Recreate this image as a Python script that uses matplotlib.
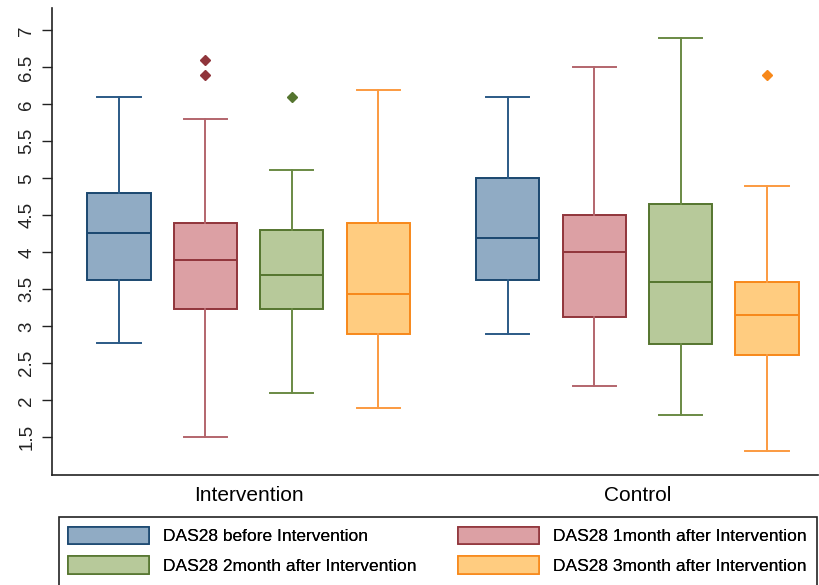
import numpy as np
import matplotlib.pyplot as plt
from matplotlib.patches import Patch, Rectangle

plt.rcParams['font.family'] = ['Liberation Sans', 'DejaVu Sans']

# data
groups = ["Intervention", "Control"]
series = ["DAS28 before Intervention", "DAS28 1month after Intervention",
          "DAS28 2month after Intervention", "DAS28 3month after Intervention"]

low = [[2.78, 1.50, 2.10, 1.90], [2.89, 2.20, 1.80, 1.31]]
q1 = [[3.62, 3.23, 3.23, 2.90], [3.62, 3.12, 2.76, 2.61]]
med = [[4.26, 3.89, 3.70, 3.44], [4.20, 4.00, 3.60, 3.15]]
q3 = [[4.80, 4.40, 4.30, 4.40], [5.00, 4.50, 4.65, 3.60]]
high = [[6.10, 5.80, 5.11, 6.20], [6.10, 6.50, 6.90, 4.90]]
outliers = [[[], [6.6, 6.4], [6.1], []], [[], [], [], [6.4]]]

edge = ["#1a476f", "#90353b", "#55752f", "#f7881a"]
whisk = ["#2b5a86", "#b3656c", "#6a8a44", "#fb9a40"]
fill = ["#90abc4", "#dca0a4", "#b7c99a", "#ffcc80"]

fig = plt.figure(figsize=(8.19, 5.85), dpi=100)
ax = fig.add_axes([0.0635, 0.188, 0.9353, 0.798])

for g in range(len(groups)):
    for s in range(len(series)):
        pos = 1 + s + g * 4.5
        st = [dict(whislo=low[g][s], q1=q1[g][s], med=med[g][s], q3=q3[g][s],
                   whishi=high[g][s], fliers=outliers[g][s])]
        ax.bxp(st, positions=[pos], widths=0.73, capwidths=0.5, patch_artist=True,
               boxprops=dict(facecolor=fill[s], edgecolor=edge[s], linewidth=1.4),
               medianprops=dict(color=edge[s], linewidth=1.4),
               whiskerprops=dict(color=whisk[s], linewidth=1.4),
               capprops=dict(color=whisk[s], linewidth=1.4),
               flierprops=dict(marker='D', markersize=5, markerfacecolor=edge[s],
                               markeredgecolor=edge[s]))

ax.set_xlim(0.225, 9.09)
ax.set_ylim(0.99, 7.30)
yt = np.arange(1.5, 7.01, 0.5)
ax.set_yticks(yt)
ax.set_yticklabels(["%g" % v for v in yt], rotation=90, va='center', fontsize=13.5)
ax.tick_params(axis='y', length=7, width=1, pad=5, colors='#222222')
ax.set_xticks([2.5, 7.0])
ax.set_xticklabels(groups, fontsize=15)
ax.tick_params(axis='x', length=0, pad=8)
for sp in ['top', 'right']:
    ax.spines[sp].set_visible(False)
for sp in ['left', 'bottom']:
    ax.spines[sp].set_color('#222222')
    ax.spines[sp].set_linewidth(1.2)

# legend: frame drawn by hand, two columns as two legends
fig.patches.append(Rectangle((59 / 819, -0.05), 758 / 819, 0.05 + 68 / 585,
                             transform=fig.transFigure, facecolor='white',
                             edgecolor='#222222', linewidth=1.2))
handles = [Patch(facecolor=fill[i], edgecolor=edge[i], linewidth=1.2) for i in range(4)]
for col, x0 in enumerate([68, 458]):
    idx = [col, col + 2]
    leg = fig.legend([handles[i] for i in idx], [series[i] for i in idx],
                     loc='upper left', bbox_to_anchor=(x0 / 819, 1 - 527 / 585),
                     fontsize=12.5, frameon=False, handlelength=4.67,
                     handleheight=1.15, handletextpad=0.8, labelspacing=0.68,
                     borderpad=0, borderaxespad=0)
    fig.add_artist(leg)

fig.savefig("out.png", dpi=100)
